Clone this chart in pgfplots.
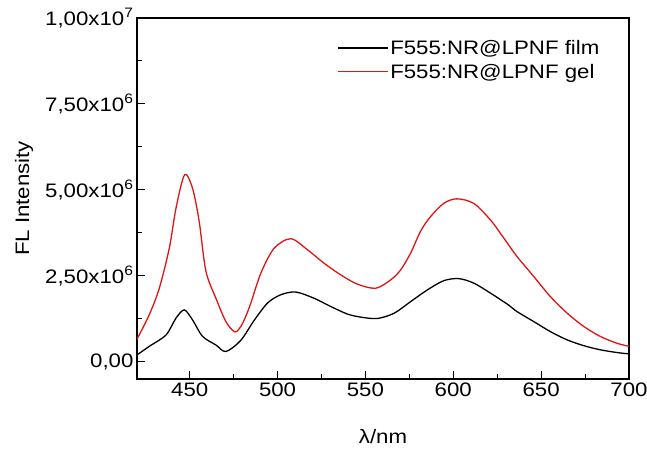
\documentclass[border=0pt]{standalone}
\usepackage{fontspec}
\setmainfont{Liberation Sans}[FakeStretch=1.14]
\usepackage{pgfplots}
\pgfplotsset{compat=1.18}
\definecolor{gelred}{RGB}{225,20,20}

\begin{document}
\begin{tikzpicture}
\begin{axis}[
    name=ax,
    scale only axis,
    width=492pt, height=361pt,
    xmin=420, xmax=700,
    ymin=-0.5e6, ymax=1e7,
    xtick={450,500,...,700},
    minor x tick num=1,
    ytick={0,2.5e6,5e6,7.5e6,1e7},
    scaled y ticks=false,
    yticklabels={{0,00}, {2,50x10\textsuperscript{6}}, {5,00x10\textsuperscript{6}}, {7,50x10\textsuperscript{6}}, {1,00x10\textsuperscript{7}}},
    minor y tick num=1,
    tick pos=left,
    tick align=inside,
    major tick length=8pt,
    minor tick length=5pt,
    axis line style={line width=1.2pt},
    every tick/.style={line width=1pt, black},
    tick label style={font=\fontsize{19.5}{23}\selectfont},
    /pgf/number format/assume math mode=true,
    label style={font=\fontsize{19.5}{23}\selectfont},
    xlabel={λ/nm},
    ylabel={FL Intensity},
    xlabel style={at={([yshift=-58pt]axis description cs:0.5,0)}, anchor=center},
    ylabel style={at={([xshift=-113pt]axis description cs:0,0.5)}, anchor=center},
    legend style={draw=none, fill=none, font=\fontsize{19.5}{23}\selectfont,
        at={(axis description cs:0.40,0.95)}, anchor=north west,
        row sep=4pt},
    legend cell align=left,
    legend image code/.code={\draw[#1] (0pt,0pt) -- (50pt,0pt);},
]
\addplot[black, line width=1.3pt, smooth] coordinates {
(420,0.20e6) (427,0.45e6) (436.5,0.78e6) (442.2,1.27e6) (446.9,1.51e6)
(451.6,1.22e6) (457.3,0.74e6) (464.9,0.49e6) (470.6,0.30e6) (479,0.62e6)
(486.6,1.20e6) (494.3,1.71e6) (501.8,1.95e6) (510.3,2.03e6) (520.7,1.85e6)
(530.2,1.61e6) (539.7,1.39e6) (547.3,1.30e6) (556.7,1.26e6) (566.2,1.41e6)
(575.7,1.75e6) (585.2,2.09e6) (594.6,2.36e6) (603.1,2.42e6) (611.6,2.29e6)
(621.1,2.00e6) (626.8,1.81e6) (631.5,1.65e6) (636.3,1.46e6) (645.8,1.17e6)
(655.2,0.88e6) (664.7,0.64e6) (674.2,0.47e6) (683.6,0.35e6) (693.1,0.27e6)
(700,0.23e6)
};
\addlegendentry{F555:NR@LPNF film}
\addplot[gelred, line width=1.3pt, smooth] coordinates {
(420,0.66e6) (427,1.37e6) (432.7,2.14e6) (438.4,3.31e6) (442.2,4.47e6)
(447.1,5.44e6) (451.6,5.05e6) (455.4,4.08e6) (459.2,2.64e6) (464.9,1.85e6)
(470.6,1.17e6) (475.7,0.87e6) (479.1,1.03e6) (481.9,1.32e6) (484.8,1.71e6)
(490.5,2.58e6) (498,3.30e6) (507.5,3.58e6) (517,3.26e6) (526.4,2.87e6)
(535.9,2.53e6) (545.4,2.26e6) (555.8,2.14e6) (564.3,2.38e6) (570,2.67e6)
(575.7,3.16e6) (581.4,3.80e6) (587,4.22e6) (594.6,4.61e6) (602,4.74e6)
(611.6,4.61e6) (621.1,4.13e6) (626.8,3.74e6) (631.5,3.40e6) (636.3,3.06e6)
(645.8,2.48e6) (655.2,1.90e6) (664.7,1.42e6) (674.2,1.03e6) (683.6,0.74e6)
(693.1,0.54e6) (700,0.45e6)
};
\addlegendentry{F555:NR@LPNF gel}
\end{axis}
\pgfresetboundingbox
\path[use as bounding box] ([shift={(-137pt,-76pt)}]ax.south west) rectangle ([shift={(18pt,18pt)}]ax.north east);
\end{tikzpicture}
\end{document}
